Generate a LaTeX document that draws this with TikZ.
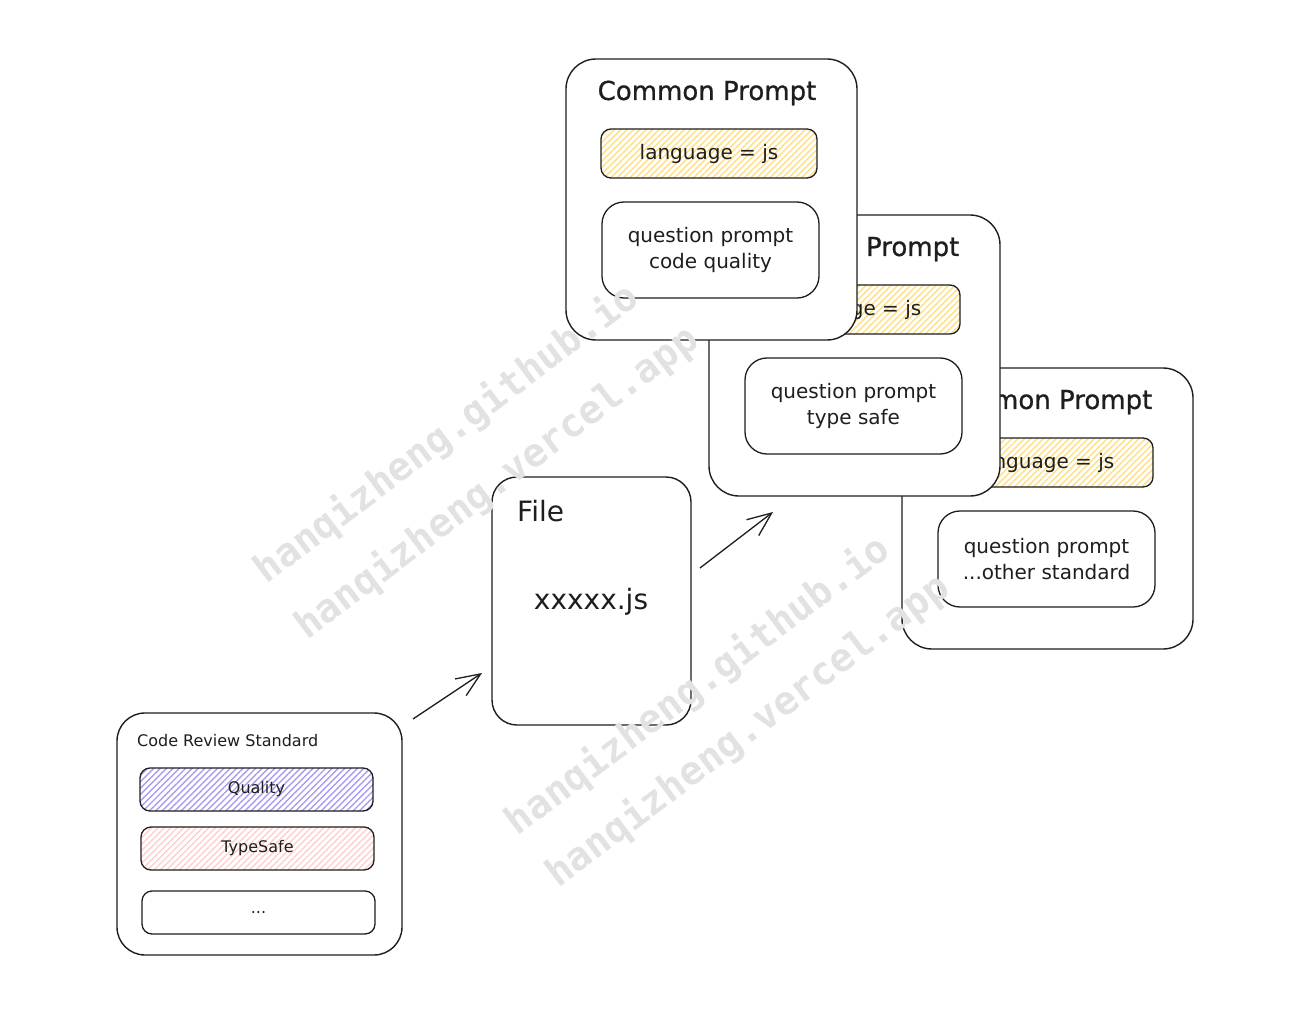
\documentclass[tikz,border=0pt]{standalone}
\usepackage{fontspec}
\setmainfont{DejaVu Sans}
\newfontfamily\titlefont{DejaVu Sans}[FakeBold=0.8]
\newfontfamily\wmfont{DejaVu Sans Mono}
\usetikzlibrary{arrows.meta,patterns.meta}
\definecolor{ink}{HTML}{1E1E1E}
\definecolor{hyellow}{HTML}{FFDF80}
\definecolor{hpurple}{HTML}{A99CF3}
\definecolor{hpink}{HTML}{FFCFCF}
\definecolor{wm}{HTML}{E2E2E2}
\tikzset{
  card/.style={draw=ink, line width=1.4pt, fill=white, rounded corners=30pt, inner sep=0pt},
  titletext/.style={text=ink, font=\titlefont\fontsize{26}{30}\selectfont, inner sep=0pt},
  bodytext/.style={text=ink, font=\fontsize{20}{26}\selectfont, align=center},
  langbox/.style={draw=ink, line width=1.3pt, rounded corners=10pt,
    pattern={Lines[angle=45,distance=4.5pt,line width=1.4pt]}, pattern color=hyellow,
    minimum width=216pt, minimum height=49pt, bodytext},
  qbox/.style={draw=ink, line width=1.3pt, fill=white, rounded corners=22pt,
    minimum width=217pt, minimum height=96pt, bodytext},
  filebox/.style={draw=ink, line width=1.4pt, fill=white, rounded corners=25pt, inner sep=0pt},
  crsbox/.style={draw=ink, line width=1.4pt, fill=white, rounded corners=28pt, inner sep=0pt},
  smallbox/.style={draw=ink, line width=1.3pt, rounded corners=10pt,
    minimum width=233pt, minimum height=43pt, text=ink, font=\fontsize{16}{20}\selectfont},
  purplefill/.style={pattern={Lines[angle=45,distance=4.5pt,line width=1.4pt]}, pattern color=hpurple},
  pinkfill/.style={pattern={Lines[angle=45,distance=4.5pt,line width=1.4pt]}, pattern color=hpink},
  conn/.style={draw=ink, line width=1.3pt, -{Straight Barb[length=24pt,width=20pt,line width=1.3pt]}},
  watermark/.style={text=wm, font=\wmfont\bfseries\fontsize{39}{39}\selectfont, rotate=37, inner sep=0pt}
}
\newcommand\promptcard[4]{%
  \begin{scope}[shift={(#2,#3)}]
    \node[card, minimum width=291pt, minimum height=281pt] (#1card) at (711.5,199.5) {};
    \node[titletext] (#1title) at (707,93) {Common Prompt};
    \node[langbox] (#1lang) at (709,153.5) {language = js};
    \node[qbox] (#1q) at (710.5,250) {question prompt\\#4};
  \end{scope}}
\begin{document}
\begin{tikzpicture}[x=1pt,y=-1pt]
  \useasboundingbox (0,0) rectangle (1298,1024);
  \fill[white] (0,0) rectangle (1298,1024);

  % prompt cards (back to front)
  \promptcard{c}{336}{309}{...other standard}
  \promptcard{b}{143}{156}{type safe}
  \promptcard{a}{0}{0}{code quality}

  % file box
  \node[filebox, minimum width=199pt, minimum height=248pt] (file) at (591.5,601) {};
  \node[titletext, font=\fontsize{28}{32}\selectfont, anchor=west] (filetitle) at (517,511) {File};
  \node[text=ink, font=\fontsize{28}{32}\selectfont] (filename) at (591,602) {xxxxx.js};

  % code review standard
  \node[crsbox, minimum width=285pt, minimum height=242pt] (crs) at (259.5,834) {};
  \node[text=ink, font=\fontsize{16}{20}\selectfont, anchor=west, inner sep=0pt] (crstitle) at (137,741) {Code Review Standard};
  \node[smallbox, purplefill] (quality) at (256.5,789.5) {Quality};
  \node[smallbox, pinkfill] (typesafe) at (257.5,848.5) {TypeSafe};
  \node[smallbox, fill=white] (more) at (258.5,912.5) {...};

  % arrows
  \coordinate (a1s) at (413,719);
  \coordinate (a1e) at (482,673);
  \coordinate (a2s) at (700,568);
  \coordinate (a2e) at (773,512);
  \draw[conn] (a1s) -- (a1e);
  \draw[conn] (a2s) -- (a2e);

  % watermarks
  \node[watermark] (wm1) at (447,434) {hanqizheng.github.io};
  \node[watermark] (wm2) at (497,483) {hanqizheng.vercel.app};
  \node[watermark] (wm3) at (698,686) {hanqizheng.github.io};
  \node[watermark] (wm4) at (748,731) {hanqizheng.vercel.app};
\end{tikzpicture}
\end{document}
